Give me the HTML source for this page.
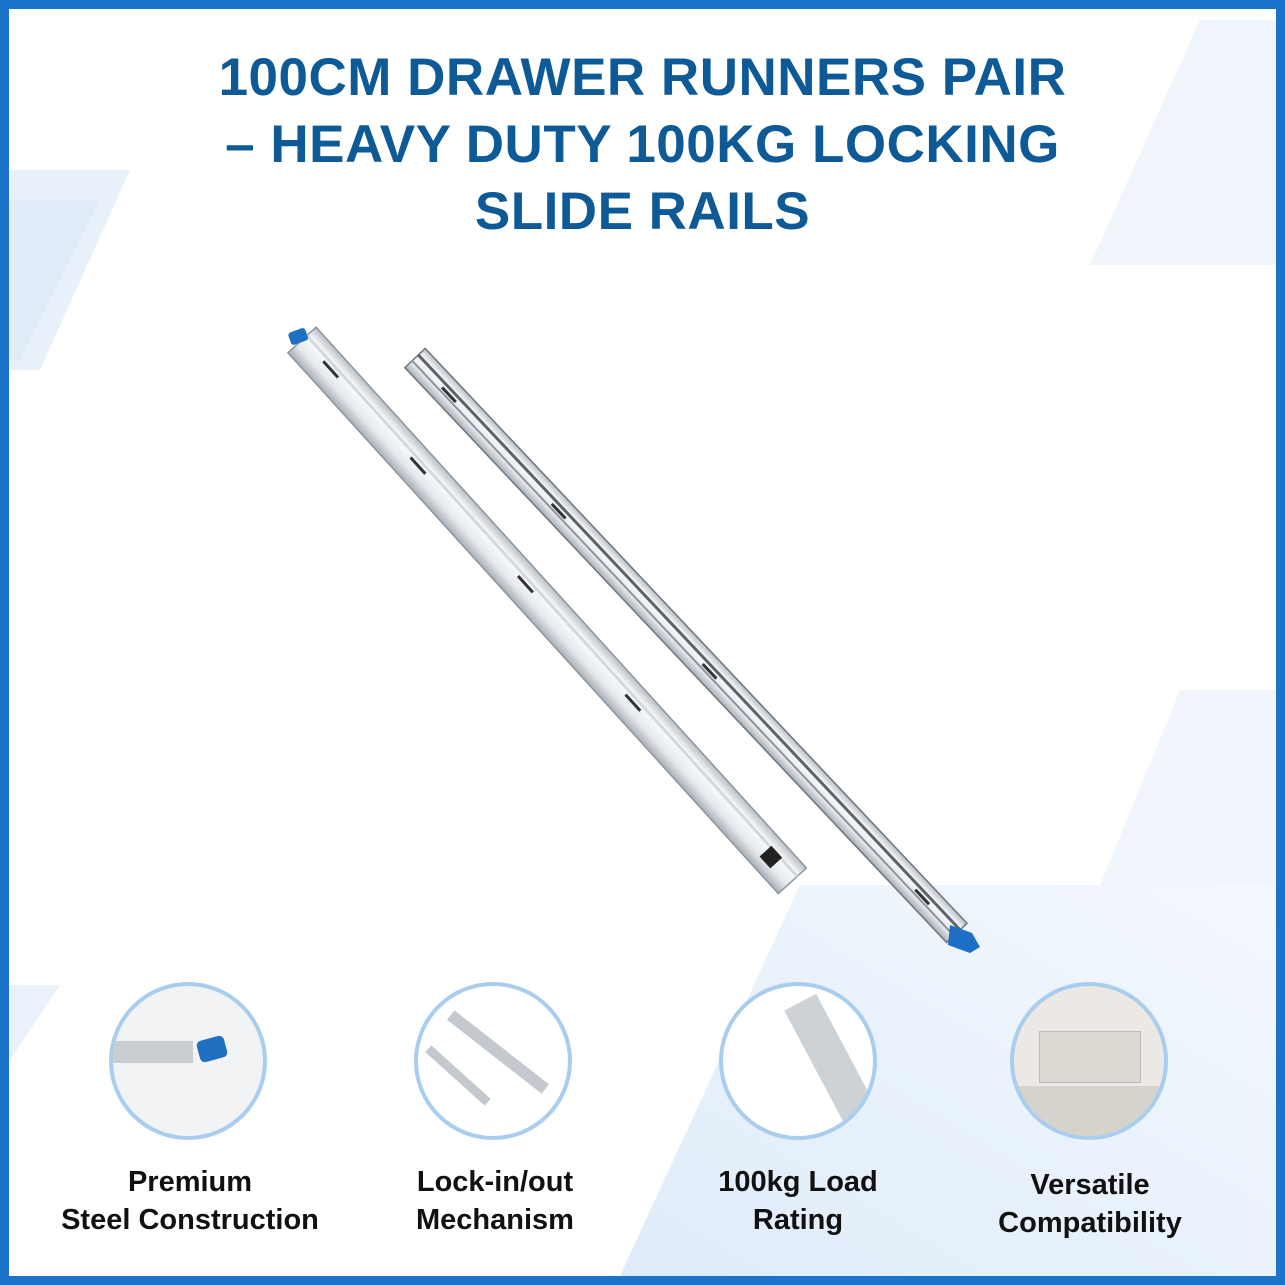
<!DOCTYPE html>
<html><head><meta charset="utf-8"><style>
html,body{margin:0;padding:0}
body{width:1285px;height:1285px;position:relative;overflow:hidden;background:#fff;font-family:"Liberation Sans",sans-serif}
.frame{position:absolute;inset:0;border:9px solid #1b74c9;box-sizing:border-box;z-index:10;pointer-events:none}
.title{position:absolute;left:0;width:1285px;text-align:center;color:#0d5a97;font-weight:bold;font-size:53px;line-height:67px;top:44px;letter-spacing:0.5px}
.lab{position:absolute;width:320px;text-align:center;font-weight:bold;font-size:29px;line-height:38px;color:#111}
.circ{position:absolute;width:158px;height:158px;border-radius:50%;border:4px solid #a9cdee;box-sizing:border-box;background:#fff;overflow:hidden}
</style></head><body>
<svg width="1285" height="1285" style="position:absolute;left:0;top:0">
<defs>
<linearGradient id="bg1" x1="0" y1="0" x2="1" y2="1"><stop offset="0" stop-color="#dbe9f7"/><stop offset="1" stop-color="#ffffff" stop-opacity="0"/></linearGradient>
<linearGradient id="bg2" x1="0" y1="1" x2="1" y2="0"><stop offset="0" stop-color="#dfecf9"/><stop offset="1" stop-color="#f3f8fd"/></linearGradient>
<linearGradient id="rail" x1="0" y1="0" x2="0" y2="1"><stop offset="0" stop-color="#b8bfc6"/><stop offset="0.3" stop-color="#fafbfc"/><stop offset="0.7" stop-color="#e6e9ec"/><stop offset="1" stop-color="#a7afb7"/></linearGradient>
</defs>
<polygon points="0,170 130,170 40,370 0,370" fill="#e8f1fa"/>
<polygon points="0,200 100,200 20,360 0,360" fill="#e0ecf8"/>
<polygon points="1200,20 1276,20 1276,265 1090,265" fill="#eff5fb"/>
<polygon points="800,885 1276,885 1276,1276 620,1276" fill="url(#bg2)"/>
<polygon points="1180,690 1276,690 1276,885 1100,885" fill="#f1f6fc"/>
<polygon points="0,985 60,985 10,1060 0,1060" fill="#e9f2fb"/>
<g transform="translate(302,340) rotate(47.8)">
<rect x="0" y="-19" width="730" height="38" fill="url(#rail)" stroke="#8d969f" stroke-width="1.5"/>
<rect x="0" y="-8" width="730" height="3" fill="#d3d8dd"/>
<rect x="690" y="-8" width="16" height="16" fill="#222"/>
<g fill="#333"><rect x="160" y="-3" width="22" height="3"/><rect x="320" y="-3" width="22" height="3"/><rect x="480" y="-3" width="22" height="3"/><rect x="30" y="-3" width="22" height="3"/></g>
</g>
<rect x="289" y="330" width="18" height="13" rx="3" fill="#1f6fc2" transform="rotate(-20 298 336)"/>
<g transform="translate(415,358) rotate(46.7)">
<rect x="0" y="-14" width="790" height="28" fill="url(#rail)" stroke="#6d767f" stroke-width="1.5"/>
<rect x="0" y="-6" width="790" height="3" fill="#5b646c"/>
<rect x="0" y="3" width="790" height="2" fill="#8b949c"/>
<g fill="#333"><rect x="200" y="-1" width="20" height="3"/><rect x="420" y="-1" width="20" height="3"/><rect x="730" y="-1" width="20" height="3"/><rect x="40" y="-1" width="20" height="3"/></g>
</g>
<path d="M950,925 l22,8 l8,14 l-10,6 l-22,-8z" fill="#1d6ec4"/>
</svg>
<div class="title">100CM DRAWER RUNNERS PAIR<br>– HEAVY DUTY 100KG LOCKING<br>SLIDE RAILS</div>

<div class="circ" style="left:109px;top:982px;background:#f2f3f5">
<div style="position:absolute;left:0;top:55px;width:80px;height:22px;background:#c9ced3"></div>
<div style="position:absolute;left:85px;top:52px;width:28px;height:22px;background:#1f6fc2;border-radius:5px;transform:rotate(-15deg)"></div>
</div>
<div class="circ" style="left:414px;top:982px">
<div style="position:absolute;left:20px;top:60px;width:120px;height:12px;background:#c3c9cf;transform:rotate(38deg)"></div>
<div style="position:absolute;left:0;top:85px;width:80px;height:9px;background:#c3c9cf;transform:rotate(42deg)"></div>
</div>
<div class="circ" style="left:719px;top:982px">
<div style="position:absolute;left:40px;top:60px;width:140px;height:36px;background:#cdd2d7;transform:rotate(62deg)"></div>
</div>
<div class="circ" style="left:1010px;top:982px;background:#ece9e4">
<div style="position:absolute;left:25px;top:45px;width:100px;height:50px;background:#dcd8d2;border:1px solid #bbb"></div>
<div style="position:absolute;left:0;top:100px;width:160px;height:60px;background:#d6d2cc"></div>
</div>

<div class="lab" style="left:30px;top:1163px">Premium<br>Steel Construction</div>
<div class="lab" style="left:335px;top:1163px">Lock-in/out<br>Mechanism</div>
<div class="lab" style="left:638px;top:1163px">100kg Load<br>Rating</div>
<div class="lab" style="left:930px;top:1166px">Versatile<br>Compatibility</div>
<div class="frame"></div>
</body></html>
